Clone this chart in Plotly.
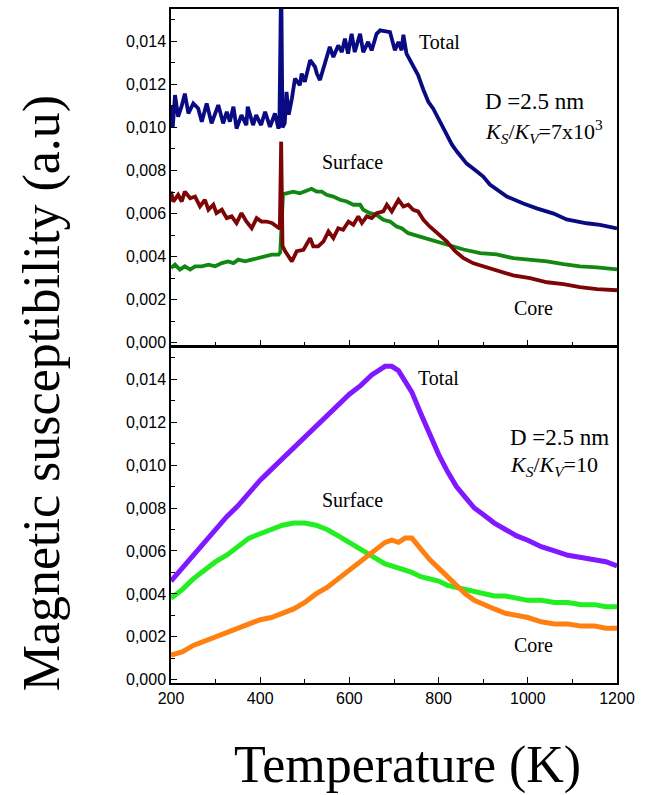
import plotly.graph_objects as go

# ---------------- Top panel (K_S/K_V = 7x10^3) ----------------
top_total_T = [200, 204, 209, 216, 224, 231, 239, 250, 261, 269, 280, 291, 306, 317, 325, 332, 340, 347, 358, 369,
               372, 384, 391, 402, 411, 422, 433, 441, 443, 445, 447, 450, 455, 459, 464, 471, 478, 489, 493, 500,
               512, 523, 527, 534, 545, 556, 564, 575, 583, 590, 597, 605, 612, 624, 631, 642, 650, 661, 669, 684,
               691, 702, 710, 717, 721, 728, 743, 754, 766, 777, 788, 803, 818, 830, 841, 863, 886, 900, 915, 953,
               990, 1020, 1058, 1087, 1132, 1162, 1200]
top_total_v = [0.0110, 0.0100, 0.0115, 0.0105, 0.0110, 0.01157, 0.01065, 0.01111, 0.01088, 0.01026, 0.01111, 0.01019,
               0.01104, 0.01019, 0.01073, 0.01027, 0.01096, 0.00995, 0.01057, 0.01011, 0.01096, 0.01011, 0.01057,
               0.01011, 0.01073, 0.01003, 0.01065, 0.00995, 0.0101, 0.0170, 0.0170, 0.0100, 0.0102, 0.01165, 0.0106,
               0.01134, 0.01227, 0.01196, 0.0125, 0.01212, 0.01312, 0.01281, 0.0125, 0.0122, 0.01296, 0.01374,
               0.01327, 0.01381, 0.0135, 0.01412, 0.01343, 0.01435, 0.0135, 0.01435, 0.0135, 0.01397, 0.01358,
               0.01435, 0.01451, 0.01443, 0.01443, 0.01358, 0.01397, 0.01358, 0.0143, 0.01343, 0.0129, 0.01243,
               0.01174, 0.01119, 0.01087, 0.01027, 0.00971, 0.0092, 0.00888, 0.00832, 0.00795, 0.00772, 0.00735,
               0.00679, 0.00647, 0.00624, 0.0060, 0.00573, 0.00555, 0.00548, 0.00531]

top_core_T = [200, 205, 216, 224, 231, 243, 254, 265, 276, 284, 295, 302, 314, 325, 336, 347, 358, 369, 381, 392,
              403, 414, 426, 437, 444, 447, 450, 456, 463, 471, 482, 497, 512, 519, 530, 542, 553, 564, 575, 586,
              598, 609, 620, 628, 639, 650, 661, 676, 684, 695, 710, 721, 732, 743, 754, 766, 780, 799, 818, 837,
              856, 878, 900, 930, 967, 1005, 1043, 1080, 1117, 1155, 1200]
top_core_v = [0.00702, 0.00656, 0.00687, 0.00656, 0.00702, 0.00671, 0.00679, 0.00633, 0.00664, 0.00618, 0.00641,
              0.00602, 0.00618, 0.00579, 0.00587, 0.00556, 0.00602, 0.00563, 0.00532, 0.00579, 0.00563, 0.00563,
              0.00556, 0.0054, 0.0053, 0.00934, 0.0045, 0.00425, 0.00401, 0.00378, 0.00425, 0.00432, 0.00486,
              0.00448, 0.00448, 0.00471, 0.00517, 0.00486, 0.00532, 0.00525, 0.00563, 0.00548, 0.00587, 0.00556,
              0.00587, 0.00579, 0.00602, 0.0061, 0.00641, 0.0061, 0.00664, 0.00633, 0.00641, 0.00617, 0.0061,
              0.00571, 0.0054, 0.00508, 0.00471, 0.00425, 0.00393, 0.00369, 0.00355, 0.00336, 0.00313, 0.0030,
              0.00281, 0.00272, 0.00258, 0.00249, 0.00244]

top_surf_T = [200, 209, 220, 231, 243, 254, 269, 284, 299, 314, 328, 340, 351, 366, 381, 396, 411, 426, 441, 445,
              448, 451, 459, 474, 489, 504, 515, 527, 538, 549, 564, 579, 594, 609, 624, 631, 646, 661, 676, 691,
              706, 717, 732, 743, 780, 818, 856, 893, 930, 967, 1005, 1043, 1080, 1117, 1155, 1200]
top_surf_v = [0.00347, 0.00363, 0.0034, 0.00355, 0.0034, 0.00355, 0.00355, 0.00363, 0.00355, 0.0037, 0.00378, 0.0037,
              0.00386, 0.00378, 0.00386, 0.00394, 0.00401, 0.00409, 0.00409, 0.0042, 0.0055, 0.0069, 0.00694,
              0.00702, 0.00694, 0.00705, 0.00715, 0.00702, 0.00702, 0.00687, 0.00679, 0.00664, 0.00656, 0.00641,
              0.00641, 0.00618, 0.00602, 0.00594, 0.00571, 0.00563, 0.0054, 0.00532, 0.00509, 0.00502, 0.0048,
              0.00456, 0.00433, 0.00416, 0.0041, 0.00393, 0.00387, 0.00378, 0.00365, 0.00355, 0.0035, 0.00341]

# ---------------- Bottom panel (K_S/K_V = 10) ----------------
bot_T = [200, 225, 250, 275, 300, 325, 350, 375, 400, 425, 450, 475, 500, 525, 550, 575, 600, 625, 650, 665, 680,
         695, 710, 725, 740, 760, 780, 800, 820, 840, 860, 880, 900, 925, 950, 975, 1000, 1030, 1060, 1090, 1120,
         1150, 1175, 1200]
bot_total_v = [0.0046, 0.0052, 0.0058, 0.0064, 0.0070, 0.0076, 0.0081, 0.0087, 0.0093, 0.0098, 0.0103, 0.0108,
               0.0113, 0.0118, 0.0123, 0.0128, 0.0133, 0.0137, 0.0142, 0.0144, 0.0146, 0.0146, 0.0144, 0.0139,
               0.0134, 0.0124, 0.0114, 0.0105, 0.0097, 0.0090, 0.0085, 0.0080, 0.0077, 0.0073, 0.0070, 0.0067,
               0.0065, 0.0062, 0.0060, 0.0058, 0.0057, 0.0056, 0.0055, 0.0053]
bot_surf_v = [0.0038, 0.0042, 0.0047, 0.0051, 0.0055, 0.0058, 0.0062, 0.0066, 0.0068, 0.0070, 0.0072, 0.0073,
              0.0073, 0.0072, 0.0070, 0.0067, 0.0064, 0.0061, 0.0058, 0.0056, 0.0054, 0.0053, 0.0052, 0.0051,
              0.0050, 0.0048, 0.0047, 0.0046, 0.0044, 0.0043, 0.0042, 0.0041, 0.0040, 0.0039, 0.0039, 0.0038,
              0.0037, 0.0037, 0.0036, 0.0036, 0.0035, 0.0035, 0.0034, 0.0034]
bot_core_v = [0.00115, 0.0013, 0.0016, 0.0018, 0.0020, 0.0022, 0.0024, 0.0026, 0.0028, 0.0029, 0.0031, 0.0033,
              0.0036, 0.0040, 0.0043, 0.0047, 0.0051, 0.0055, 0.0059, 0.0061, 0.0064, 0.0065, 0.0064, 0.0066,
              0.0066, 0.0061, 0.0056, 0.0052, 0.0048, 0.0044, 0.0040, 0.0037, 0.0035, 0.0033, 0.0031, 0.0030,
              0.0029, 0.0027, 0.0026, 0.0026, 0.0025, 0.0025, 0.0024, 0.0024]

x_ticks = [200, 400, 600, 800, 1000, 1200]
y_range = [-0.00015, 0.0155]

fig = go.Figure()
# top panel
fig.add_trace(go.Scatter(x=top_total_T, y=top_total_v, mode="lines", line=dict(color="#0a0a82", width=3.8),
                         xaxis="x2", yaxis="y2", name="Total"))
fig.add_trace(go.Scatter(x=top_surf_T, y=top_surf_v, mode="lines", line=dict(color="#118811", width=3.8),
                         xaxis="x2", yaxis="y2", name="Surface"))
fig.add_trace(go.Scatter(x=top_core_T, y=top_core_v, mode="lines", line=dict(color="#7d0505", width=3.8),
                         xaxis="x2", yaxis="y2", name="Core"))
# bottom panel
fig.add_trace(go.Scatter(x=bot_T, y=bot_total_v, mode="lines", line=dict(color="#8019ff", width=5),
                         xaxis="x", yaxis="y", name="Total"))
fig.add_trace(go.Scatter(x=bot_T, y=bot_surf_v, mode="lines", line=dict(color="#22ee22", width=5),
                         xaxis="x", yaxis="y", name="Surface"))
fig.add_trace(go.Scatter(x=bot_T, y=bot_core_v, mode="lines", line=dict(color="#ff8010", width=5),
                         xaxis="x", yaxis="y", name="Core"))

tickfont = dict(family="Liberation Sans, Arial", size=16, color="black")
axis_common = dict(showline=True, linecolor="black", linewidth=1.5, mirror=True, showgrid=False, zeroline=False,
                   ticks="inside", ticklen=6, tickwidth=1.3, tickcolor="black", tickfont=tickfont)
xaxis_common = dict(axis_common, range=[200, 1200], tickvals=x_ticks,
                    minor=dict(dtick=100, tick0=200, ticks="inside", ticklen=4, tickwidth=1.2, tickcolor="black"))
yaxis_common = dict(axis_common, range=y_range, tick0=0, dtick=0.002, tickformat=".3f",
                    minor=dict(dtick=0.001, tick0=0, ticks="inside", ticklen=4, tickwidth=1.2, tickcolor="black"))

fig.update_layout(
    width=648, height=795,
    margin=dict(l=171, r=31, t=7, b=112),
    paper_bgcolor="white", plot_bgcolor="white",
    showlegend=False,
    separators=",.",
    xaxis=dict(xaxis_common, domain=[0, 1], anchor="y"),
    xaxis2=dict(xaxis_common, domain=[0, 1], anchor="y2", matches="x", showticklabels=False),
    yaxis=dict(yaxis_common, domain=[0, 0.4985], anchor="x"),
    yaxis2=dict(yaxis_common, domain=[0.5, 1], anchor="x2"),
)

serif = "Liberation Serif, Times New Roman, serif"
ann = []
def add(text, x, y, xref, yref, size, xanchor="center", angle=0, yanchor="middle"):
    ann.append(dict(text=text, x=x, y=y, xref=xref, yref=yref, showarrow=False, xanchor=xanchor,
                    yanchor=yanchor, textangle=angle, font=dict(family=serif, size=size, color="black")))

# top panel labels
add("Total", 803, 0.01397, "x2", "y2", 20)
add("Surface", 606, 0.00841, "x2", "y2", 20)
add("Core", 1012, 0.0016, "x2", "y2", 20)
add("D =2.5 nm", 900, 0.01119, "x2", "y2", 23, xanchor="left")
add("<i>K<sub>S</sub></i>/<i>K<sub>V</sub></i>=7x10<sup>3</sup>", 900, 0.0098, "x2", "y2", 22, xanchor="left")
# bottom panel labels
add("Total", 799, 0.01407, "x", "y", 20)
add("Surface", 607, 0.00839, "x", "y", 20)
add("Core", 1012, 0.00162, "x", "y", 20)
add("D =2.5 nm", 955, 0.01129, "x", "y", 23, xanchor="left")
add("<i>K<sub>S</sub></i>/<i>K<sub>V</sub></i>=10", 955, 0.00998, "x", "y", 22, xanchor="left")
# axis titles
add("Magnetic susceptibility (a.u)", -0.289, 0.430, "paper", "paper", 52, angle=-90)
add("Temperature (K)", 0.531, -0.121, "paper", "paper", 52)

fig.update_layout(annotations=ann)
fig.write_html("out.html", config={"displayModeBar": False},
               post_script="document.body.style.margin='0';document.body.style.padding='0';")
